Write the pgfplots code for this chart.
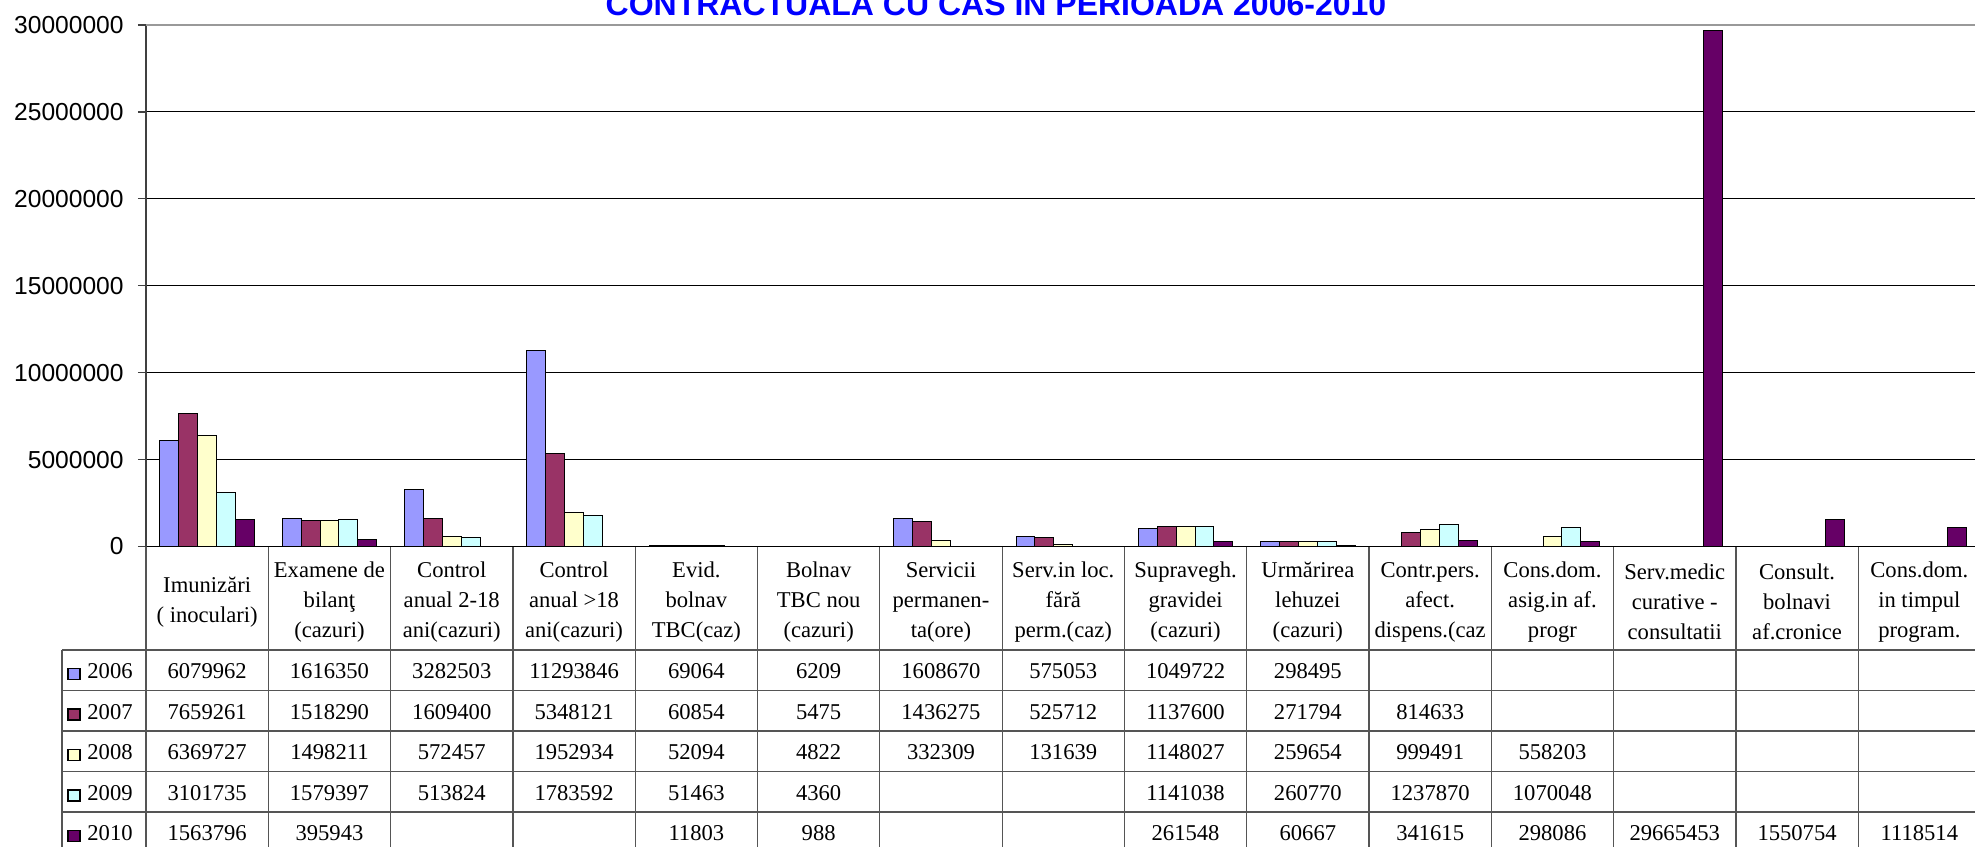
\documentclass[border=0pt]{standalone}
\usepackage{pgfplots}
\pgfplotsset{compat=1.18}
\usepackage{fontspec}
\setmainfont{Liberation Serif}
\newfontfamily\arialfont{Liberation Sans}
\definecolor{c2006}{HTML}{9999FF}
\definecolor{c2007}{HTML}{993366}
\definecolor{c2008}{HTML}{FFFFCC}
\definecolor{c2009}{HTML}{CCFFFF}
\definecolor{c2010}{HTML}{660066}
\definecolor{tblline}{HTML}{555555}
\begin{document}
\begin{tikzpicture}
\useasboundingbox (0,0) rectangle (987.5pt,-423pt);
\clip (0,0) rectangle (987.5pt,-423pt);
\begin{axis}[
  at={(73pt,-273.25pt)}, anchor=south west,
  scale only axis, width=917.25pt, height=260.75pt,
  xmin=-0.5, xmax=14.5, ymin=0, ymax=30000000,
  ybar=0pt, bar width=0.1545,
  xtick=\empty,
  ytick={0,5000000,10000000,15000000,20000000,25000000},
  extra y ticks={30000000},
  extra y tick style={grid style={draw=black!40, line width=1.2pt}},
  ymajorgrids, grid style={black, line width=0.5pt},
  axis lines*=left,
  axis line style={-},
  x axis line style={black, line width=0.8pt},
  y axis line style={black!75, line width=0.8pt},
  tick align=outside, major tick length=4pt, ytick pos=left,
  tick style={black!75, line width=0.6pt},
  scaled y ticks=false,
  yticklabel style={/pgf/number format/fixed, /pgf/number format/precision=0,
    /pgf/number format/set thousands separator={},
    /pgf/number format/assume math mode=true,
    font=\fontsize{12.3}{14}\selectfont\arialfont, inner sep=0pt, xshift=-7pt},
  every axis plot/.append style={draw=black, line width=0.5pt},
]
\addplot[fill=c2006] coordinates {(0,6079962) (1,1616350) (2,3282503) (3,11293846) (4,69064) (5,6209) (6,1608670) (7,575053) (8,1049722) (9,298495)};
\addplot[fill=c2007] coordinates {(0,7659261) (1,1518290) (2,1609400) (3,5348121) (4,60854) (5,5475) (6,1436275) (7,525712) (8,1137600) (9,271794) (10,814633)};
\addplot[fill=c2008] coordinates {(0,6369727) (1,1498211) (2,572457) (3,1952934) (4,52094) (5,4822) (6,332309) (7,131639) (8,1148027) (9,259654) (10,999491) (11,558203)};
\addplot[fill=c2009] coordinates {(0,3101735) (1,1579397) (2,513824) (3,1783592) (4,51463) (5,4360) (8,1141038) (9,260770) (10,1237870) (11,1070048)};
\addplot[fill=c2010] coordinates {(0,1563796) (1,395943) (4,11803) (5,988) (8,261548) (9,60667) (10,341615) (11,298086) (12,29665453) (13,1550754) (14,1118514)};
\end{axis}
\begin{scope}[x=0.5pt,y=-0.5pt]
\tikzset{tbl/.style={draw=tblline, line width=0.6pt},
  hdr/.style={align=center, inner sep=0pt, font=\fontsize{11.3}{15}\selectfont},
  cell/.style={anchor=base, inner sep=0pt, font=\fontsize{11.3}{13}\selectfont}}
\node[font=\fontsize{16}{19}\selectfont\arialfont\bfseries, text=blue, anchor=base, inner sep=0pt] at (996,15) {CONTRACTUALA CU CAS IN PERIOADA 2006-2010};
\foreach \k in {0,...,15} \draw[tbl] ({146+122.3*\k},547) -- ({146+122.3*\k},870);
\draw[tbl] (62,650) -- (62,870);
\foreach \yy in {650,690.5,731,771.5,812} \draw[tbl] (62,\yy) -- (1995,\yy);
\foreach \h [count=\i from 0] in {
  {Imunizări\\( inoculari)},
  {Examene de\\bilanţ\\(cazuri)},
  {Control\\anual 2-18\\ani(cazuri)},
  {Control\\anual >18\\ani(cazuri)},
  {Evid.\\bolnav\\TBC(caz)},
  {Bolnav\\TBC nou\\(cazuri)},
  {Servicii\\permanen-\\ta(ore)},
  {Serv.in loc.\\fără\\perm.(caz)},
  {Supravegh.\\gravidei\\(cazuri)},
  {Urmărirea\\lehuzei\\(cazuri)},
  {Contr.pers.\\afect.\\dispens.(caz},
  {Cons.dom.\\asig.in af.\\progr},
  {Serv.medic\\curative -\\consultatii},
  {Consult.\\bolnavi\\af.cronice},
  {Cons.dom.\\in timpul\\program.}}
  \node[hdr] at ({207.15+122.3*\i},602) {\h};
\foreach \v [count=\i from 0] in {6079962,1616350,3282503,11293846,69064,6209,1608670,575053,1049722,298495}
  \node[cell] at ({207.15+122.3*\i},678.5) {\v};
\foreach \v [count=\i from 0] in {7659261,1518290,1609400,5348121,60854,5475,1436275,525712,1137600,271794,814633}
  \node[cell] at ({207.15+122.3*\i},719) {\v};
\foreach \v [count=\i from 0] in {6369727,1498211,572457,1952934,52094,4822,332309,131639,1148027,259654,999491,558203}
  \node[cell] at ({207.15+122.3*\i},759.5) {\v};
\foreach \v [count=\i from 0] in {3101735,1579397,513824,1783592,51463,4360,{},{},1141038,260770,1237870,1070048}
  \node[cell] at ({207.15+122.3*\i},800) {\v};
\foreach \v [count=\i from 0] in {1563796,395943,{},{},11803,988,{},{},261548,60667,341615,298086,29665453,1550754,1118514}
  \node[cell] at ({207.15+122.3*\i},840.5) {\v};
\foreach \c/\lab [count=\r from 0] in {c2006/2006,c2007/2007,c2008/2008,c2009/2009,c2010/2010} {
  \pgfmathsetmacro{\yb}{678.5+40.5*\r}
  \draw[fill=\c, draw=black, line width=0.6pt] (68,\yb-10) rectangle (80,\yb+1);
  \node[cell, anchor=base west] at (87,\yb) {\lab};
}
\end{scope}
\end{tikzpicture}
\end{document}
